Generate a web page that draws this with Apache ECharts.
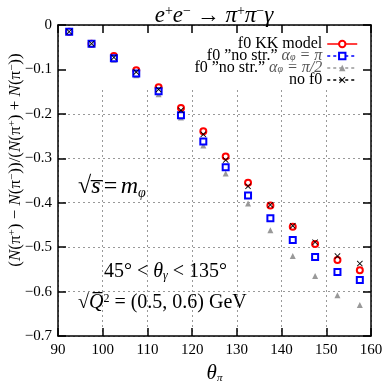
<!DOCTYPE html>
<html>
<head>
<meta charset="utf-8">
<script src="https://cdn.jsdelivr.net/npm/echarts@6/dist/echarts.min.js"></script>
<style>
  html, body { margin: 0; padding: 0; background: #fff; }
  #chart { width: 382px; height: 382px; }
</style>
</head>
<body>
<div id="chart"></div>
<script>
// theta_pi bin centres
const thetaPi = [92.5, 97.5, 102.5, 107.5, 112.5, 117.5, 122.5, 127.5, 132.5, 137.5, 142.5, 147.5, 152.5, 157.5];
// asymmetry values
const kkModel = [-0.015, -0.042, -0.070, -0.102, -0.140, -0.187, -0.239, -0.296, -0.355, -0.406, -0.454, -0.493, -0.529, -0.552];
const noStrPi = [-0.015, -0.042, -0.075, -0.109, -0.149, -0.203, -0.262, -0.320, -0.384, -0.435, -0.484, -0.522, -0.556, -0.574];
const noStrHalfPi = [-0.016, -0.044, -0.078, -0.113, -0.156, -0.208, -0.271, -0.334, -0.402, -0.462, -0.520, -0.565, -0.608, -0.630];
const noF0 = [-0.015, -0.042, -0.073, -0.106, -0.145, -0.192, -0.246, -0.304, -0.363, -0.405, -0.452, -0.489, -0.520, -0.537];
const xTicks = [90, 160, 10];   // min, max, step
const yTicks = [-0.7, 0, 0.1];

const SERIF = '"Liberation Serif", "DejaVu Serif", serif';
const crossPath = 'path://M0,1L1,0L5,4L9,0L10,1L6,5L10,9L9,10L5,6L1,10L0,9L4,5Z';

const pairs = arr => thetaPi.map((x, i) => [x, arr[i]]);

const myChart = echarts.init(document.getElementById('chart'));

// top / right frame with inward ticks
const boxAxis = {
    type: 'value',
    axisLine: { show: true, lineStyle: { color: '#000', width: 1.5 } },
    axisTick: { show: true, inside: true, length: 8, lineStyle: { color: '#000', width: 1.5 } },
    axisLabel: { show: false },
    splitLine: { show: false },
    z: 5,
};
// dotted grid only
const gridAxis = {
    type: 'value',
    axisLine: { show: false },
    axisTick: { show: false },
    axisLabel: { show: false },
    splitLine: { show: true, lineStyle: { color: '#999', type: [2, 3], width: 1 } },
    z: 0,
};

myChart.setOption({
    animation: false,
    title: {
        text: '{i|e}{s|+}{i|e}{s|−}{n| → }{i|π}{s|+}{i|π}{s|−}{i|γ}',
        left: 209, top: -1, textAlign: 'center',
        textStyle: {
            fontWeight: 'normal',
            rich: {
                i: { fontFamily: SERIF, fontSize: 23, fontStyle: 'italic', fontWeight: 'normal', color: '#000' },
                n: { fontFamily: SERIF, fontSize: 23, fontWeight: 'normal', color: '#000' },
                s: { fontFamily: SERIF, fontSize: 14, fontWeight: 'normal', color: '#000', verticalAlign: 'top', padding: [0, 0, 10, 0] },
            },
        },
    },
    grid: { left: 58, right: 11, top: 25, bottom: 46, outerBoundsMode: 'none', containLabel: false },
    legend: {
        orient: 'vertical',
        align: 'right',
        right: 19, top: 31,
        itemWidth: 30, itemHeight: 8, itemGap: -4,
        textStyle: {
            fontFamily: SERIF, fontSize: 16, color: '#000', lineHeight: 12,
            rich: {
                g: { fontFamily: SERIF, fontSize: 16, fontStyle: 'italic', color: '#555', lineHeight: 12 },
                sub: { fontFamily: SERIF, fontSize: 10, fontStyle: 'italic', color: '#555', lineHeight: 12, verticalAlign: 'bottom' },
            },
        },
        formatter: name => ({
            kk: 'f0 KK model',
            pi: 'f0 ”no str.” {g|α}{sub|φ}{g| = π}',
            half: 'f0 ”no str.” {g|α}{sub|φ}{g| = π/2}',
            no: 'no f0',
        })[name],
        data: [
            { name: 'kk', lineStyle: { opacity: 1, width: 1.5, color: '#ff0000', type: 'solid' } },
            { name: 'pi', lineStyle: { opacity: 1, width: 1.5, color: '#0000ff', type: [3, 3] } },
            { name: 'half', lineStyle: { opacity: 1, width: 1.5, color: '#999', type: [3, 3] } },
            { name: 'no', lineStyle: { opacity: 1, width: 1.5, color: '#000', type: [3, 3] } },
        ],
    },
    xAxis: [
        {
            type: 'value', min: xTicks[0], max: xTicks[1], interval: xTicks[2],
            name: '{i|θ}{s|π}', nameLocation: 'middle', nameGap: 26,
            nameTextStyle: {
                rich: {
                    i: { fontFamily: SERIF, fontSize: 21, fontStyle: 'italic', color: '#000' },
                    s: { fontFamily: SERIF, fontSize: 11, fontStyle: 'italic', color: '#000', verticalAlign: 'bottom', padding: [9, 0, 0, 0] },
                },
            },
            axisLine: { show: true, onZero: false, lineStyle: { color: '#000', width: 1.5 } },
            axisTick: { inside: true, length: 8, lineStyle: { color: '#000', width: 1.5 } },
            axisLabel: { fontFamily: SERIF, fontSize: 15, color: '#000', margin: 7 },
            splitLine: { show: false },
            z: 5,
        },
        Object.assign({}, boxAxis, { position: 'top', min: xTicks[0], max: xTicks[1], interval: xTicks[2] }),
        Object.assign({}, gridAxis, { min: xTicks[0], max: xTicks[1], interval: xTicks[2] }),
    ],
    yAxis: [
        {
            type: 'value', min: yTicks[0], max: yTicks[1], interval: yTicks[2],
            axisLine: { show: true, onZero: false, lineStyle: { color: '#000', width: 1.5 } },
            axisTick: { inside: true, length: 8, lineStyle: { color: '#000', width: 1.5 } },
            axisLabel: {
                fontFamily: SERIF, fontSize: 15, color: '#000', margin: 6,
                formatter: v => (Math.abs(v) < 1e-9 ? '0' : '−' + Math.abs(v).toFixed(1)),
            },
            splitLine: { show: false },
            z: 5,
        },
        Object.assign({}, boxAxis, { position: 'right', min: yTicks[0], max: yTicks[1], interval: yTicks[2] }),
        Object.assign({}, gridAxis, { min: yTicks[0], max: yTicks[1], interval: yTicks[2] }),
    ],
    graphic: [
        // the key area hides the grid near the top
        { type: 'rect', z: 1, shape: { x: 59, y: 26, width: 311, height: 64 }, style: { fill: '#fff' } },
        {
            type: 'text', x: 16, y: 160, rotation: Math.PI / 2,
            style: {
                text: '{n|(}{i|N}{n|(π}{s|+}{n|) − }{i|N}{n|(π}{s|−}{n|))/(}{i|N}{n|(π}{s|+}{n|) + }{i|N}{n|(π}{s|−}{n|))}',
                align: 'center', verticalAlign: 'middle',
                rich: {
                    n: { fontFamily: SERIF, fontSize: 17, color: '#000' },
                    i: { fontFamily: SERIF, fontSize: 17, fontStyle: 'italic', color: '#000' },
                    s: { fontFamily: SERIF, fontSize: 11, color: '#000', verticalAlign: 'top', padding: [0, 0, 8, 0] },
                },
            },
        },
        {
            type: 'text', z: 1, left: 78, top: 175,
            style: {
                text: '{r|√}{i|s̅} {n|=} {i|m}{sub|φ}',
                rich: {
                    r: { fontFamily: SERIF, fontSize: 24 },
                    i: { fontFamily: SERIF, fontSize: 24, fontStyle: 'italic' },
                    n: { fontFamily: SERIF, fontSize: 24 },
                    sub: { fontFamily: SERIF, fontSize: 14, fontStyle: 'italic', verticalAlign: 'bottom', padding: [12, 0, 0, 0] },
                },
            },
        },
        {
            type: 'text', z: 1, left: 104, top: 262,
            style: {
                text: '{n|45° < }{i|θ}{sub|γ}{n| < 135°}',
                rich: {
                    n: { fontFamily: SERIF, fontSize: 20 },
                    i: { fontFamily: SERIF, fontSize: 20, fontStyle: 'italic' },
                    sub: { fontFamily: SERIF, fontSize: 12, fontStyle: 'italic', verticalAlign: 'bottom', padding: [8, 0, 0, 0] },
                },
            },
        },
        {
            type: 'text', z: 1, left: 78, top: 293,
            style: {
                text: '{n|√}{i|Q̅}{sup|2}{n| = (0.5, 0.6) GeV}',
                rich: {
                    n: { fontFamily: SERIF, fontSize: 20 },
                    i: { fontFamily: SERIF, fontSize: 20, fontStyle: 'italic' },
                    sup: { fontFamily: SERIF, fontSize: 12, verticalAlign: 'top', padding: [0, 0, 8, 0] },
                },
            },
        },
    ],
    series: [
        {
            name: 'kk', type: 'line', data: pairs(kkModel), z: 3,
            symbol: 'emptyCircle', symbolSize: 6,
            itemStyle: { color: '#ff0000', borderWidth: 1.3 },
            lineStyle: { opacity: 0 },
        },
        {
            name: 'half', type: 'line', data: pairs(noStrHalfPi), z: 3,
            symbol: 'triangle', symbolSize: 6,
            itemStyle: { color: '#999' },
            lineStyle: { opacity: 0 },
        },
        {
            name: 'pi', type: 'line', data: pairs(noStrPi), z: 3,
            symbol: 'emptyRect', symbolSize: 6,
            itemStyle: { color: '#0000ff', borderWidth: 1.5 },
            lineStyle: { opacity: 0 },
        },
        {
            name: 'no', type: 'line', data: pairs(noF0), z: 3,
            symbol: crossPath, symbolSize: 6,
            itemStyle: { color: '#000' },
            lineStyle: { opacity: 0 },
        },
    ],
});
</script>
</body>
</html>
